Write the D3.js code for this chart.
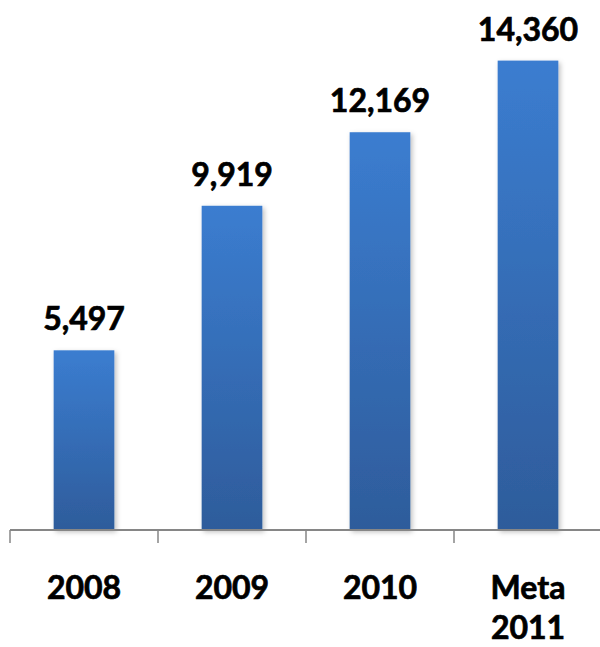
<!DOCTYPE html>
<html>
<head>
<meta charset="utf-8">
<script src="https://cdn.jsdelivr.net/npm/d3@7"></script>
<style>
  body { margin: 0; background: #fff; }
  text { font-family: Lato, "Open Sans", sans-serif; font-weight: bold; fill: #000;
         stroke: #000; stroke-width: 0.7px; }
</style>
</head>
<body>
<div id="chart"></div>
<script>
// Data
const categories = ['2008', '2009', '2010', 'Meta 2011'];
const values = [5497, 9919, 12169, 14360];
const yMax = 16000;

const width = 600, height = 647;
const axisY = 530;

const svg = d3.select('#chart')
    .append('svg')
    .attr('width', width)
    .attr('height', height);

// Gradient for bars (lighter top, darker bottom)
const defs = svg.append('defs');
const grad = defs.append('linearGradient')
    .attr('id', 'barGrad')
    .attr('x1', 0).attr('y1', 0).attr('x2', 0).attr('y2', 1);
grad.append('stop').attr('offset', '0%').attr('stop-color', '#3b7dd0');
grad.append('stop').attr('offset', '100%').attr('stop-color', '#2e5c9b');

const shadow = defs.append('filter')
    .attr('id', 'shadow')
    .attr('x', '-20%').attr('y', '-10%')
    .attr('width', '150%').attr('height', '130%');
shadow.append('feDropShadow')
    .attr('dx', 2).attr('dy', 2)
    .attr('stdDeviation', 2.5)
    .attr('flood-color', '#000')
    .attr('flood-opacity', 0.25);

// Scales
const x = d3.scaleBand()
    .domain(categories)
    .range([10, 602])
    .paddingInner(0.59)
    .paddingOuter(0.295);

const y = d3.scaleLinear()
    .domain([0, yMax])
    .range([axisY, 7]);

// Bars
svg.append('g')
    .selectAll('rect')
    .data(values)
    .join('rect')
    .attr('x', (d, i) => x(categories[i]))
    .attr('y', d => y(d))
    .attr('width', x.bandwidth())
    .attr('height', d => axisY - y(d))
    .attr('fill', 'url(#barGrad)')
    .attr('filter', 'url(#shadow)');

// Value labels
svg.append('g')
    .selectAll('text')
    .data(values)
    .join('text')
    .attr('x', (d, i) => x(categories[i]) + x.bandwidth() / 2)
    .attr('y', d => y(d) - 20)
    .attr('text-anchor', 'middle')
    .style('font-size', '32px')
    .text(d => d3.format(',')(d));

// X axis: baseline with ticks at band boundaries
const step = x.step();
const edges = d3.range(categories.length + 1).map(i => 10 + i * step);
const axis = svg.append('g').attr('class', 'x-axis');
axis.append('line')
    .attr('x1', 10).attr('x2', width)
    .attr('y1', axisY).attr('y2', axisY)
    .attr('stroke', '#868686')
    .attr('stroke-width', 2);
axis.selectAll('.tick')
    .data(edges)
    .join('line')
    .attr('class', 'tick')
    .attr('x1', d => d).attr('x2', d => d)
    .attr('y1', axisY).attr('y2', axisY + 13)
    .attr('stroke', '#868686')
    .attr('stroke-width', 1.5);

// Category labels (split on space into lines)
const catLabels = svg.append('g')
    .selectAll('text')
    .data(categories)
    .join('text')
    .attr('x', d => x(d) + x.bandwidth() / 2)
    .attr('y', 599)
    .attr('text-anchor', 'middle')
    .style('font-size', '32px');

catLabels.each(function (d) {
    const parts = d.split(' ');
    const t = d3.select(this);
    const cx = t.attr('x');
    parts.forEach((p, i) => {
        t.append('tspan')
            .attr('x', cx)
            .attr('dy', i === 0 ? 0 : 40)
            .text(p);
    });
});
</script>
</body>
</html>
